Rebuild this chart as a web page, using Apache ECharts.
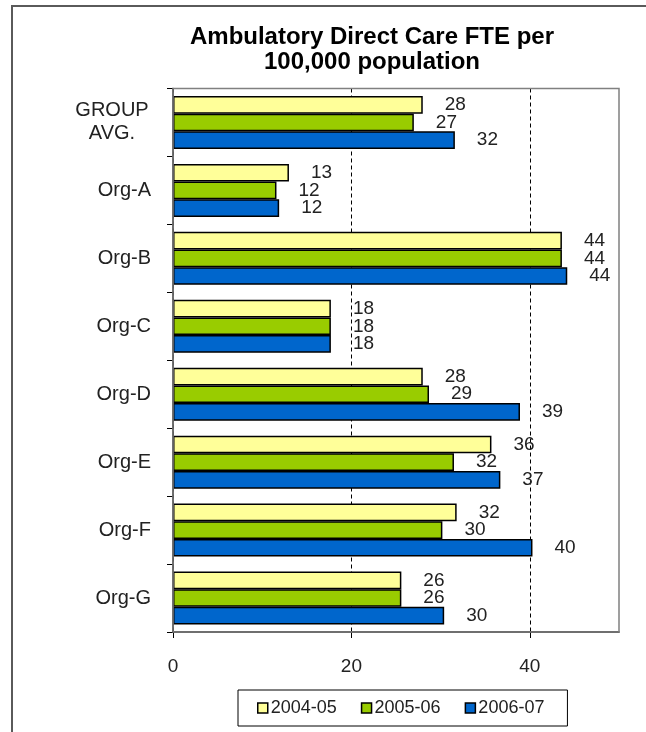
<!DOCTYPE html>
<html>
<head>
<meta charset="utf-8">
<script src="https://cdn.jsdelivr.net/npm/echarts@6/dist/echarts.min.js"></script>
<style>
  html, body { margin: 0; padding: 0; background: #fff; }
  #chart { width: 646px; height: 732px; }
</style>
</head>
<body>
<div id="chart"></div>
<script>
var categories = ['GROUP AVG.', 'Org-A', 'Org-B', 'Org-C', 'Org-D', 'Org-E', 'Org-F', 'Org-G'];
var fy0405 = [28.0, 13.0, 43.6, 17.7, 28.0, 35.7, 31.8, 25.6];
var fy0506 = [27.0, 11.6, 43.6, 17.7, 28.7, 31.5, 30.2, 25.6];
var fy0607 = [31.6, 11.9, 44.2, 17.7, 38.9, 36.7, 40.3, 30.4];
var xTickValues = [0, 20, 40];
var xMax = 50;

var chart = echarts.init(document.getElementById('chart'));
var txt = '#222';
var font = '"Liberation Sans", Arial, sans-serif';

function barSeries(name, data, color) {
    return {
        name: name,
        type: 'bar',
        data: data,
        barGap: 0,
        barCategoryGap: '22%',
        itemStyle: {color: color, borderColor: '#000', borderWidth: 1.5},
        label: {
            show: true,
            position: 'right',
            distance: 22,
            color: txt,
            fontFamily: font,
            fontSize: 19,
            formatter: function (p) { return Math.round(p.value); }
        }
    };
}

option = {
    backgroundColor: '#fff',
    textStyle: {fontFamily: font},
    graphic: [
        {
            type: 'rect',
            shape: {x: 12, y: 6, width: 700, height: 800},
            style: {fill: 'none', stroke: '#5a5a5a', lineWidth: 2},
            silent: true
        },
        {
            type: 'text',
            x: 372,
            y: 25,
            style: {
                text: 'Ambulatory Direct Care FTE per\n100,000 population',
                textAlign: 'center',
                fontFamily: font,
                fontWeight: 'bold',
                fontSize: 24,
                lineHeight: 25,
                fill: '#000'
            }
        }
    ],
    legend: {
        left: 238,
        top: 690,
        padding: [9, 23, 9, 19],
        borderColor: '#000',
        borderWidth: 1,
        itemWidth: 10,
        itemHeight: 10,
        itemGap: 24,
        icon: 'rect',
        itemStyle: {borderColor: '#000', borderWidth: 1.5},
        textStyle: {color: txt, fontFamily: font, fontSize: 18, padding: [0, 0, 0, -2]},
        data: ['2004-05', '2005-06', '2006-07']
    },
    grid: {
        left: 173,
        right: 27,
        top: 88.5,
        bottom: 100,
        show: true,
        z: 5,
        borderColor: '#808080',
        borderWidth: 1.5,
        backgroundColor: 'transparent'
    },
    xAxis: {
        type: 'value',
        min: 0,
        max: xMax,
        interval: 20,
        axisLine: {show: true, lineStyle: {color: '#000', width: 1.5}},
        axisTick: {show: true, length: 6, lineStyle: {color: '#000'}, customValues: xTickValues},
        axisLabel: {color: txt, fontSize: 19, margin: 25, customValues: xTickValues},
        splitLine: {show: true, lineStyle: {color: '#000', type: [4, 3], width: 1}}
    },
    yAxis: {
        type: 'category',
        inverse: true,
        data: categories,
        axisLine: {show: true, lineStyle: {color: '#000', width: 1.5}},
        axisTick: {show: true, length: 6, lineStyle: {color: '#000'}},
        axisLabel: {
            color: txt,
            fontSize: 20,
            margin: 22,
            formatter: function (v) {
                return v === 'GROUP AVG.' ? '{c|GROUP}\n{c|AVG.}' : v;
            },
            rich: {
                c: {fontSize: 20, color: txt, width: 78, align: 'center', lineHeight: 23}
            }
        }
    },
    series: [
        barSeries('2004-05', fy0405, '#FFFF99'),
        barSeries('2005-06', fy0506, '#99CC00'),
        barSeries('2006-07', fy0607, '#0066CC')
    ]
};
chart.setOption(option);
</script>
</body>
</html>
